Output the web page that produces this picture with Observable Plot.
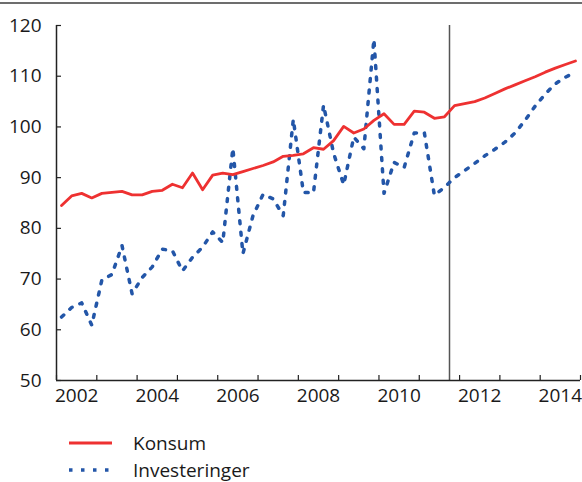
<!DOCTYPE html>
<html><head><meta charset="utf-8">
<script src="https://cdn.jsdelivr.net/npm/d3@7"></script>
<script src="https://cdn.jsdelivr.net/npm/@observablehq/plot@0.6"></script>
<style>
body{margin:0;background:#fff;font-family:"Open Sans",sans-serif;}
#wrap{position:relative;width:582px;height:482px;overflow:hidden;background:#fff;}
#topline{position:absolute;left:0;top:2px;width:582px;height:2px;background:#6d6d6d;}
#chart{position:absolute;left:0;top:0;}
#legend{position:absolute;left:0;top:420px;}
</style></head><body>
<div id="wrap"><div id="chart"></div><div id="topline"></div><svg id="legend" width="300" height="62"></svg></div>
<script>
// Quarterly series, 2002 Q1 – 2014 Q4
const startYear = 2002;
const seriesNames = ["Konsum", "Investeringer"];
const seriesColors = ["#ee3131", "#2356a8"];
const konsum = [84.5, 86.4, 86.9, 86.0, 86.9, 87.1, 87.3, 86.6, 86.6, 87.3, 87.5, 88.7, 88.0, 90.9, 87.6, 90.5,
  90.9, 90.6, 91.2, 91.8, 92.4, 93.1, 94.2, 94.4, 94.7, 95.9, 95.6, 97.3, 100.1, 98.8, 99.6, 101.3,
  102.6, 100.5, 100.5, 103.1, 102.9, 101.7, 102.0, 104.2, 104.6, 105.0, 105.7, 106.6, 107.5, 108.3, 109.1, 109.9,
  110.8, 111.6, 112.3, 113.0];
const investeringer = [62.5, 64.4, 65.3, 60.9, 69.8, 70.9, 76.6, 67.1, 70.3, 72.4, 75.9, 75.6, 71.6, 74.3, 76.3, 79.3,
  77.2, 95.8, 75.0, 82.5, 86.7, 85.8, 82.5, 101.5, 87.1, 87.0, 104.3, 94.8, 88.6, 98.0, 95.7, 117.3,
  86.9, 93.0, 92.0, 98.8, 98.9, 86.5, 88.1, 90.0, 91.4, 92.8, 94.3, 95.6, 97.0, 98.8, 101.3, 104.1,
  106.5, 108.5, 109.8, 110.8];
const yTicks = [50, 60, 70, 80, 90, 100, 110, 120];
const yearTicks = [2002, 2003, 2004, 2005, 2006, 2007, 2008, 2009, 2010, 2011, 2012, 2013, 2014, 2015];
const xLabels = ["2002", "2004", "2006", "2008", "2010", "2012", "2014"];
const forecastStart = 2011.75;

const data = konsum.map((v, i) => ({t: startYear + (i + 0.5) / 4, konsum: v, inv: investeringer[i]}));
const labelPos = xLabels.map(s => +s + 0.5);
const axisColor = "#222";

const plot = Plot.plot({
  width: 582, height: 420,
  marginLeft: 56, marginRight: 2, marginTop: 25, marginBottom: 40,
  style: {fontFamily: '"Open Sans", sans-serif', fontSize: "19px", color: "#1a1a1a", background: "transparent", overflow: "visible"},
  x: {domain: [yearTicks[0], yearTicks[yearTicks.length - 1]]},
  y: {domain: [yTicks[0], yTicks[yTicks.length - 1]]},
  marks: [
    Plot.ruleX([forecastStart], {stroke: "#555", strokeWidth: 1.5}),
    Plot.lineY(data, {x: "t", y: "inv", stroke: seriesColors[1], strokeWidth: 3.5, strokeDasharray: "3,8.5"}),
    Plot.lineY(data, {x: "t", y: "konsum", stroke: seriesColors[0], strokeWidth: 2.8}),
    Plot.axisY(yTicks, {anchor: "left", tickSize: -5, tickPadding: 20, stroke: axisColor, strokeWidth: 1.2, label: null, fontSize: 19}),
    Plot.axisX(yearTicks, {anchor: "bottom", tickSize: -5, tickFormat: () => "", stroke: axisColor, strokeWidth: 1.2, label: null}),
    Plot.axisX(labelPos, {anchor: "bottom", tickSize: 0, tickPadding: 8, tickFormat: d => String(Math.floor(d)), label: null, fontSize: 19}),
    Plot.ruleX([yearTicks[0]], {stroke: axisColor, strokeWidth: 1.5}),
    Plot.ruleY([yTicks[0]], {stroke: axisColor, strokeWidth: 1.5})
  ]
});
document.getElementById("chart").appendChild(plot);

// Legend
const leg = d3.select("#legend");
const rows = [{y: 23, dash: null, w: 2.8}, {y: 50, dash: "3.5,8.5", w: 3.5}];
seriesNames.forEach((name, i) => {
  const r = rows[i];
  leg.append("line").attr("x1", 69).attr("x2", i === 0 ? 112 : 111).attr("y1", r.y).attr("y2", r.y)
    .attr("stroke", seriesColors[i]).attr("stroke-width", r.w).attr("stroke-dasharray", r.dash);
  leg.append("text").attr("x", 133).attr("y", r.y + 7).attr("font-family", '"Open Sans", sans-serif')
    .attr("font-size", 19).attr("fill", "#1a1a1a").text(name);
});
</script>
</body></html>
